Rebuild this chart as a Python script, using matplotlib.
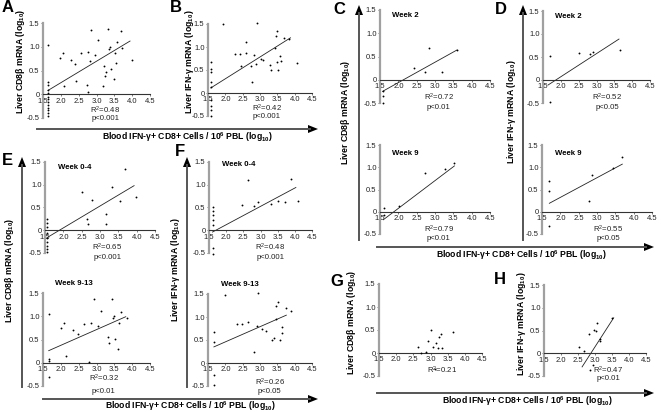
import matplotlib
matplotlib.use('Agg')
import matplotlib.pyplot as plt
from matplotlib.lines import Line2D
from matplotlib.patches import Polygon

plt.rcParams['font.family'] = ['Liberation Sans', 'DejaVu Sans']
plt.rcParams['mathtext.fontset'] = 'custom'
plt.rcParams['mathtext.rm'] = 'Liberation Sans'
plt.rcParams['mathtext.bf'] = 'Liberation Sans:bold'
plt.rcParams['mathtext.it'] = 'Liberation Sans:italic'

# ---------------- data ----------------
x_ticks = [1.5, 2.0, 2.5, 3.0, 3.5, 4.0, 4.5]
x_tick_labels = ['1.5', '2.0', '2.5', '3.0', '3.5', '4.0', '4.5']
y_ticks = [-0.5, 0, 0.5, 1.0, 1.5]
y_tick_labels = ['-0.5', '0', '0.5', '1.0', '1.5']

A_x = [1.64]*13 + [1.97, 2.05, 2.09, 2.28, 2.40, 2.43, 2.57, 2.73, 2.77, 2.77, 2.82, 2.84, 2.96, 3.03,
                   3.19, 3.21, 3.23, 3.28, 3.32, 3.34, 3.39, 3.41, 3.48, 3.53, 3.55, 3.57, 3.69, 3.71, 4.0]
A_y = [1.04, 0.25, 0.19, 0.10, 0.03, -0.05, -0.10, -0.16, -0.22, -0.28, -0.34, -0.40, -0.46,
       0.77, 0.87, 0.18, 0.73, 0.64, 0.27, 0.86, 0.20, 0.89, 0.05, 0.70, 1.35, 0.82, 1.14,
       0.18, 0.59, 0.38, 0.46, 1.38, 0.96, 1.00, 0.53, 0.32, 0.87, 0.66, 1.10, 1.33, 0.98, 0.73]
A_fit_x = [1.64, 3.94]
A_fit_y = [0.08, 1.12]

B_x = [1.58]*9 + [1.93, 2.28, 2.43, 2.46, 2.61, 2.61, 2.75, 2.76, 2.83, 2.88, 2.91, 3.03, 3.10, 3.28,
                  3.33, 3.43, 3.45, 3.50, 3.48, 3.53, 3.58, 3.61, 3.68, 3.83, 4.08]
B_y = [0.67, 0.53, 0.45, 0.25, 0.12, -0.15, -0.28, -0.38, -0.49,
       1.49, 0.84, 0.84, 0.58, 1.10, 0.88, 0.58, 0.24, 0.82, 0.63, 1.52, 0.75, 0.72, 0.60,
       0.51, 0.97, 1.25, 1.34, 0.68, 0.50, 0.80, 0.69, 1.20, 1.17, 0.66]
B_fit_x = [1.58, 3.88]
B_fit_y = [0.11, 1.20]

C1_x = [1.57, 1.57, 1.57, 2.42, 2.72, 2.83, 3.20, 3.60]
C1_y = [-0.25, -0.36, -0.49, 0.25, 0.16, 0.68, 0.16, 0.64]
C1_fit_x = [1.57, 3.60]
C1_fit_y = [-0.25, 0.64]

C2_x = [1.60, 1.60, 2.01, 2.74, 3.28, 3.53]
C2_y = [0.09, -0.08, 0.14, 0.87, 0.96, 1.10]
C2_fit_x = [1.59, 3.53]
C2_fit_y = [-0.18, 1.03]

D1_x = [1.70, 1.70, 2.50, 2.81, 2.91, 3.65]
D1_y = [0.53, -0.48, 0.59, 0.57, 0.61, 0.65]
D1_fit_x = [1.64, 3.63]
D1_fit_y = [-0.11, 0.89]

D2_x = [1.70, 1.70, 1.70, 2.78, 2.87, 3.43, 3.69]
D2_y = [0.69, 0.46, -0.32, 0.24, 0.83, 0.98, 1.22]
D2_fit_x = [1.70, 3.69]
D2_fit_y = [0.19, 1.07]

E1_x = [1.56]*9 + [2.50, 2.64, 2.67, 2.78, 3.16, 3.16, 3.33, 3.54, 3.68, 3.99]
E1_y = [0.24, 0.17, 0.07, -0.07, -0.17, -0.26, -0.35, -0.42, -0.48,
        0.84, 0.24, 0.13, 0.66, 0.35, 0.13, 0.94, 0.64, 1.35, 0.72]
E1_fit_x = [1.56, 3.93]
E1_fit_y = [-0.16, 0.98]

E2_x = [1.68]*4 + [2.00, 2.08, 2.15, 2.33, 2.47, 2.65, 2.79, 2.85, 2.93, 3.04, 3.12, 3.31, 3.36,
                   3.43, 3.45, 3.50, 3.52, 3.60, 3.62, 3.69, 3.86]
E2_y = [1.04, 0.09, 0.04, -0.30,
        0.74, 0.85, 0.14, 0.71, 0.61, 0.83, 0.01, 0.86, 1.37, 0.79, 1.12, 0.56, 0.43,
        1.38, 0.96, 1.00, 0.51, 0.30, 0.85, 1.09, 0.96]
E2_fit_x = [1.66, 3.82]
E2_fit_y = [0.26, 0.99]

F1_x = [1.62]*7 + [2.47, 2.63, 2.80, 2.92, 3.30, 3.52, 3.72, 3.88, 4.08]
F1_y = [0.51, 0.43, 0.33, 0.22, 0.12, -0.40, -0.52,
        0.56, 1.10, 0.54, 0.61, 0.58, 0.64, 0.63, 1.13, 0.65]
F1_fit_x = [1.60, 4.03]
F1_fit_y = [-0.04, 0.94]

F2_x = [1.67]*4 + [1.98, 2.34, 2.49, 2.65, 2.83, 2.90, 2.94, 3.06, 3.16, 3.36, 3.40, 3.47, 3.52,
                   3.47, 3.58, 3.64, 3.64, 3.74, 3.90]
F2_y = [0.68, 0.45, -0.27, -0.48,
        1.47, 0.84, 0.84, 0.90, 0.23, 0.80, 1.52, 0.75, 0.70, 0.50, 0.54, 1.24, 1.32,
        0.95, 0.50, 0.79, 0.66, 1.20, 1.14]
F2_fit_x = [1.67, 3.76]
F2_fit_y = [0.35, 1.04]

G_x = [2.63, 2.72, 2.86, 2.93, 3.01, 3.08, 3.16, 3.21, 3.25, 3.30, 3.33, 3.13, 3.65]
G_y = [0.13, 0.00, 0.03, 0.26, 0.50, 0.13, 0.22, 0.10, 0.35, 0.42, 0.11, -0.35, 0.46]

H_x = [2.54, 2.69, 2.83, 2.84, 2.94, 2.98, 3.04, 3.06, 3.16, 3.16, 3.50]
H_y = [0.13, 0.06, 0.43, -0.37, -0.25, 0.52, 0.50, 0.66, 0.32, 0.27, 0.78]
H_fit_x = [2.62, 3.55]
H_fit_y = [-0.30, 0.78]

stats = {
    'A': ('R$^\\mathrm{2}$=0.48', 'p<0.001'),
    'B': ('R$^\\mathrm{2}$=0.42', 'p<0.001'),
    'C1': ('R$^\\mathrm{2}$=0.72', 'p<0.01'),
    'C2': ('R$^\\mathrm{2}$=0.79', 'p<0.01'),
    'D1': ('R$^\\mathrm{2}$=0.52', 'p<0.05'),
    'D2': ('R$^\\mathrm{2}$=0.55', 'p<0.05'),
    'E1': ('R$^\\mathrm{2}$=0.65', 'p<0.001'),
    'E2': ('R$^\\mathrm{2}$=0.32', 'p<0.01'),
    'F1': ('R$^\\mathrm{2}$=0.48', 'p<0.001'),
    'F2': ('R$^\\mathrm{2}$=0.26', 'p<0.05'),
    'G': ('R$^\\mathrm{2}$=0.21', None),
    'H': ('R$^\\mathrm{2}$=0.47', 'p<0.01'),
}
weeks = {'C1': 'Week 2', 'C2': 'Week 9', 'D1': 'Week 2', 'D2': 'Week 9',
         'E1': 'Week 0-4', 'E2': 'Week 9-13', 'F1': 'Week 0-4', 'F2': 'Week 9-13'}

cd8_label = 'Liver CD8\u03b2 mRNA (log$_\\mathbf{10}$)'
ifn_label = 'Liver IFN-\u03b3 mRNA (log$_\\mathbf{10}$)'
x_label = 'Blood IFN-\u03b3+ CD8+ Cells / 10$^\\mathbf{6}$ PBL (log$_\\mathbf{10}$)'

# ---------------- layout (pixels) ----------------
W, H = 661, 412
fig = plt.figure(figsize=(W / 100, H / 100), dpi=100)

def fx(x):
    return x / W

def fy(y):
    return 1 - y / H

# name: (x at 1.5, x at 4.5, y at 1.5, y at -0.5)
boxes = {
    'A': (43, 150, 23, 118),
    'B': (208, 312, 24, 116),
    'C1': (380, 490, 10, 103),
    'C2': (380, 490, 145, 234),
    'D1': (543, 650, 11, 103),
    'D2': (542, 652, 145, 234),
    'E1': (45, 155, 162, 253),
    'E2': (43, 150, 293, 386),
    'F1': (209, 312, 162, 253),
    'F2': (208, 312, 294, 386),
    'G': (379, 482, 284, 376),
    'H': (544, 646, 285, 376),
}
series = {
    'A': (A_x, A_y, A_fit_x, A_fit_y),
    'B': (B_x, B_y, B_fit_x, B_fit_y),
    'C1': (C1_x, C1_y, C1_fit_x, C1_fit_y),
    'C2': (C2_x, C2_y, C2_fit_x, C2_fit_y),
    'D1': (D1_x, D1_y, D1_fit_x, D1_fit_y),
    'D2': (D2_x, D2_y, D2_fit_x, D2_fit_y),
    'E1': (E1_x, E1_y, E1_fit_x, E1_fit_y),
    'E2': (E2_x, E2_y, E2_fit_x, E2_fit_y),
    'F1': (F1_x, F1_y, F1_fit_x, F1_fit_y),
    'F2': (F2_x, F2_y, F2_fit_x, F2_fit_y),
    'G': (G_x, G_y, None, None),
    'H': (H_x, H_y, H_fit_x, H_fit_y),
}
stat_pos = {  # (x, y of R2, y of p) in data units
    'A': (3.25, -0.33, -0.52), 'B': (3.2, -0.33, -0.52),
    'C1': (3.1, -0.37, -0.59), 'C2': (3.1, -0.39, -0.61),
    'D1': (3.3, -0.37, -0.59), 'D2': (3.3, -0.39, -0.61),
    'E1': (3.2, -0.37, -0.59), 'E2': (3.2, -0.33, -0.61),
    'F1': (3.28, -0.37, -0.59), 'F2': (3.28, -0.43, -0.63),
    'G': (3.35, -0.37, None), 'H': (3.38, -0.38, -0.56),
}
week_pos = {'C1': (1.83, 1.39), 'C2': (1.83, 1.30), 'D1': (1.85, 1.39), 'D2': (1.85, 1.30),
            'E1': (1.85, 1.39), 'E2': (1.85, 1.70), 'F1': (1.88, 1.45), 'F2': (1.88, 1.70)}

for name, (x0, x1, yt, yb) in boxes.items():
    ax = fig.add_axes([fx(x0), fy(yb), (x1 - x0) / W, (yb - yt) / H])
    ax.set_xlim(1.5, 4.5)
    ax.set_ylim(-0.5, 1.5)
    ax.patch.set_visible(False)
    for s in ['top', 'right']:
        ax.spines[s].set_visible(False)
    ax.spines['bottom'].set_position(('data', 0))
    ax.spines['bottom'].set_color('#333333')
    ax.spines['bottom'].set_linewidth(0.8)
    ax.spines['left'].set_color('#a0a0a0')
    ax.spines['left'].set_linewidth(1.6)
    ax.set_xticks(x_ticks)
    ax.set_xticklabels(x_tick_labels)
    ax.set_yticks(y_ticks)
    ax.set_yticklabels(y_tick_labels)
    ax.tick_params(axis='both', labelsize=5.5, length=1.5, width=0.5, pad=1,
                   colors='#444444', labelcolor='#222222')
    xs, ys, fxs, fys = series[name]
    ax.scatter(xs, ys, s=1.8, color='black', linewidths=0, zorder=3, clip_on=False)
    if fxs is not None:
        ax.plot(fxs, fys, color='#222222', lw=0.6, zorder=2)
    sx, sy1, sy2 = stat_pos[name]
    r2, p = stats[name]
    ax.text(sx, sy1, r2, fontsize=5.6, ha='center', va='center', color='#222222', clip_on=False)
    if p is not None:
        ax.text(sx, sy2, p, fontsize=5.6, ha='center', va='center', color='#222222', clip_on=False)
    if name in weeks:
        wx, wy = week_pos[name]
        ax.text(wx, wy, weeks[name], fontsize=5.6, fontweight='bold', ha='left', va='center',
                clip_on=False)

# panel letters
letters = {'A': (8, 8), 'B': (176, 8), 'C': (339, 10), 'D': (501, 9),
           'E': (7, 161), 'F': (180, 152), 'G': (337, 281), 'H': (500, 279)}
for k, (x, y) in letters.items():
    fig.text(fx(x), fy(y), k, fontsize=12, fontweight='bold', ha='center', va='center')

# y-axis labels
ylabels = [(21, 61, cd8_label), (189, 62, ifn_label), (346, 112, cd8_label), (512, 112, ifn_label),
           (10, 270, cd8_label), (176, 270, ifn_label), (352, 322, cd8_label), (522, 324, ifn_label)]
for x, y, t in ylabels:
    fig.text(fx(x), fy(y), t, fontsize=6.3, fontweight='bold', rotation=90,
             ha='center', va='center')

# x-axis labels
xlabels = [(187, 137), (521, 255), (190, 406), (527, 401)]
for x, y in xlabels:
    fig.text(fx(x), fy(y), x_label, fontsize=6.2, fontweight='bold', ha='center', va='center')

# arrows
def harrow(x0, x1, y):
    fig.add_artist(Line2D([fx(x0), fx(x1 - 8)], [fy(y), fy(y)], transform=fig.transFigure,
                          color='#555555', lw=1.4))
    fig.add_artist(Polygon([(fx(x1 - 10), fy(y - 4)), (fx(x1), fy(y)), (fx(x1 - 10), fy(y + 4))],
                           closed=True, transform=fig.transFigure, color='black', lw=0))

def varrow(x, y0, y1):
    fig.add_artist(Line2D([fx(x), fx(x)], [fy(y1), fy(y0 + 8)], transform=fig.transFigure,
                          color='#555555', lw=1.4))
    fig.add_artist(Polygon([(fx(x - 4), fy(y0 + 10)), (fx(x), fy(y0)), (fx(x + 4), fy(y0 + 10))],
                           closed=True, transform=fig.transFigure, color='black', lw=0))

harrow(37, 318, 129)
harrow(377, 654, 247)
harrow(43, 318, 399)
harrow(377, 654, 393)
varrow(359, 5, 240)
varrow(523, 5, 240)
varrow(22, 157, 387)
varrow(187, 157, 387)

fig.savefig('out.png', dpi=100)
